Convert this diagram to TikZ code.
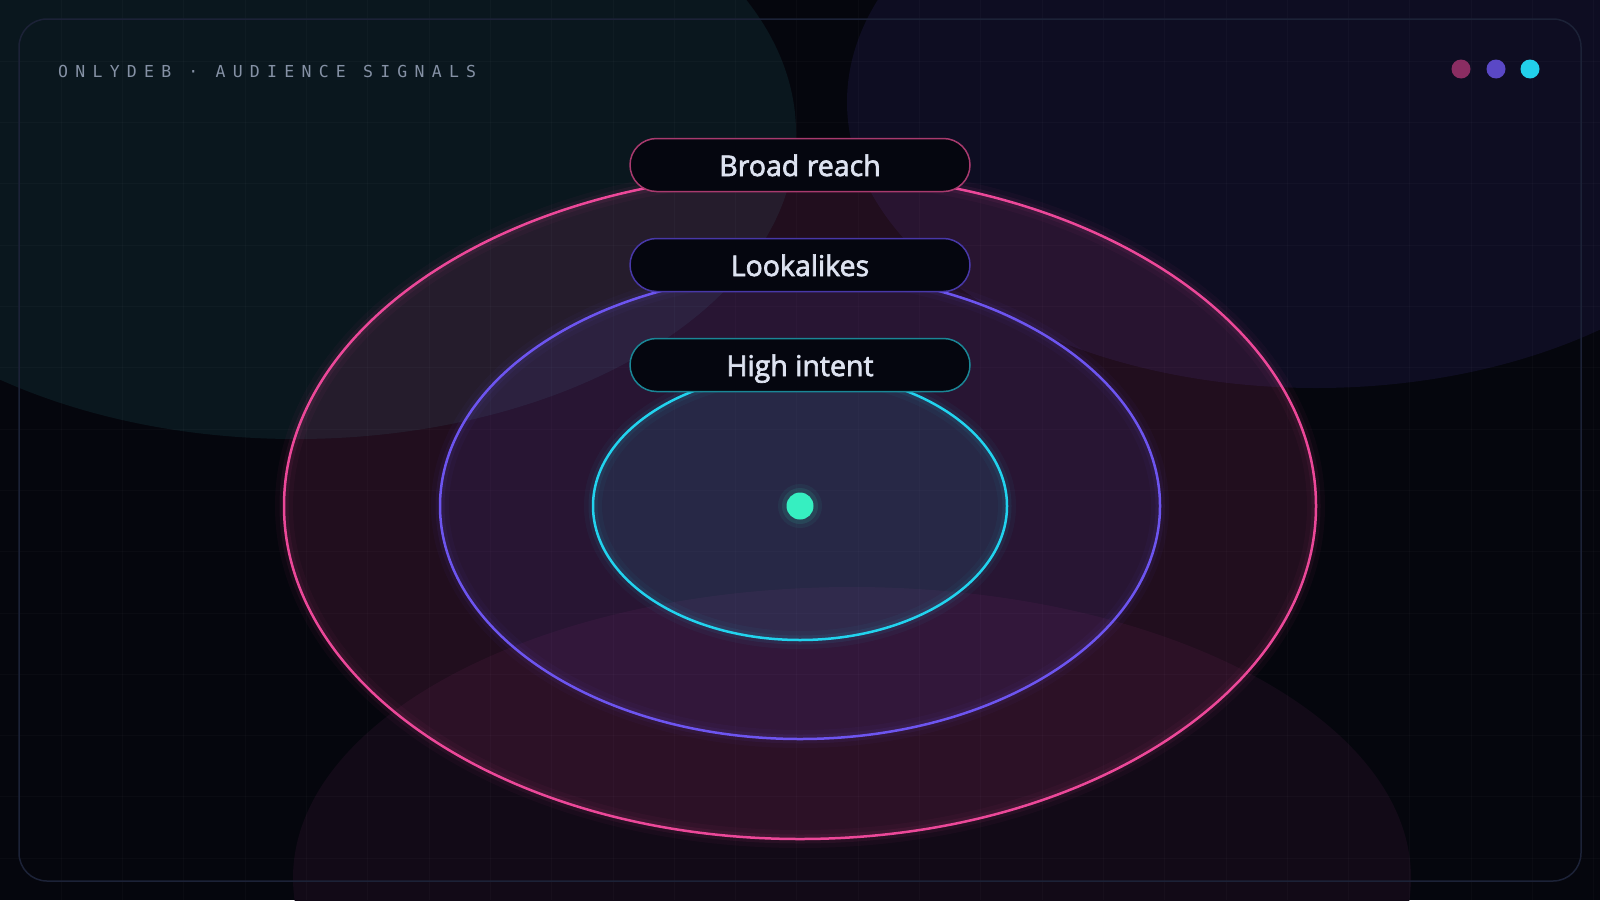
\documentclass[tikz,border=0pt]{standalone}
\usepackage{fontspec}
\setmainfont{Open Sans}
\newfontfamily\pillfont{Open Sans}[FakeBold=2.4]
\newfontfamily\titlefont{DejaVu Sans Mono}[LetterSpace=44]
\usetikzlibrary{positioning}
\definecolor{bgbase}{HTML}{05060D}
\definecolor{blobteal}{HTML}{0A171E}
\definecolor{blobviolet}{HTML}{0E0D22}
\definecolor{blobrose}{HTML}{120A17}
\definecolor{gridcol}{HTML}{FFFFFF}
\definecolor{framecol}{HTML}{1C2237}
\definecolor{roseline}{HTML}{EC4899}
\definecolor{violetline}{HTML}{6D55F0}
\definecolor{cyanline}{HTML}{22D3EE}
\definecolor{roseedge}{HTML}{A83A6E}
\definecolor{violetedge}{HTML}{4838A8}
\definecolor{cyanedge}{HTML}{1A8696}
\definecolor{pillfill}{HTML}{05060F}
\definecolor{pilltext}{HTML}{DDE2F0}
\definecolor{titlecol}{HTML}{8591A5}
\definecolor{mint}{HTML}{36EFC1}
\definecolor{dotrose}{HTML}{8A2D62}
\definecolor{dotviolet}{HTML}{5A48C6}
\definecolor{dotcyan}{HTML}{22D0EA}
\begin{document}
\begin{tikzpicture}[x=1pt,y=-1pt,
	pill/.style={draw,line width=1.5pt,fill=pillfill,rounded corners=26.5pt,minimum width=340pt,minimum height=53pt,inner sep=0pt,text height=22pt,text depth=0pt,text=pilltext,font=\pillfont\fontsize{28.5}{33}\selectfont},
	gridline/.style={draw=gridcol,opacity=0.025,line width=1pt}]
	\useasboundingbox (0,0) rectangle (1600,900);
	\fill[bgbase] (0,0) rectangle (1600,900);
		\fill[blobteal] (296,133) ellipse[x radius=500pt,y radius=306pt];
		\fill[blobviolet] (1316,102) ellipse[x radius=469pt,y radius=286pt];
		\fill[blobrose] (852,878) ellipse[x radius=559pt,y radius=291pt];
	\foreach \k in {1,...,26} \draw[gridline] (61.3*\k,0) -- (61.3*\k,900);
	\foreach \k in {1,...,14} \draw[gridline] (0,61.3*\k) -- (1600,61.3*\k);
	\draw[framecol,line width=1.5pt,rounded corners=28pt] (19,19) rectangle (1581,881);
		\foreach \rx/\ry/\col/\op in {516/333/roseline/0.12,360/233/violetline/0.10,207/134/cyanline/0.10}{
			\fill[\col,opacity=\op] (800,506) ellipse[x radius=\rx pt,y radius=\ry pt];
			\draw[\col,line width=18pt,opacity=0.04] (800,506) ellipse[x radius=\rx pt,y radius=\ry pt];
			\draw[\col,line width=9pt,opacity=0.07] (800,506) ellipse[x radius=\rx pt,y radius=\ry pt];
			\draw[\col,line width=2.5pt] (800,506) ellipse[x radius=\rx pt,y radius=\ry pt];
		}
	\fill[mint,opacity=0.06] (800,506) circle[radius=22pt];
	\fill[mint,opacity=0.1] (800,506) circle[radius=18pt];
	\node[circle,fill=mint,minimum size=27pt,inner sep=0pt] (core) at (800,506) {};
		\node[pill,draw=roseedge] (reach) at (800,165) {Broad reach};
		\node[pill,draw=violetedge,below=45.5pt of reach] (alike) {Lookalikes};
		\node[pill,draw=cyanedge,below=45.5pt of alike] (intent) {High intent};
	\node[anchor=base west,inner sep=0pt,text=titlecol,font=\titlefont\fontsize{16.5}{18}\selectfont] (title) at (58,77) {ONLYDEB · AUDIENCE SIGNALS};
	\foreach \x/\col in {1461/dotrose,1496/dotviolet,1530/dotcyan}
		\fill[\col] (\x,69) circle[radius=9.5pt];
\end{tikzpicture}
\end{document}
